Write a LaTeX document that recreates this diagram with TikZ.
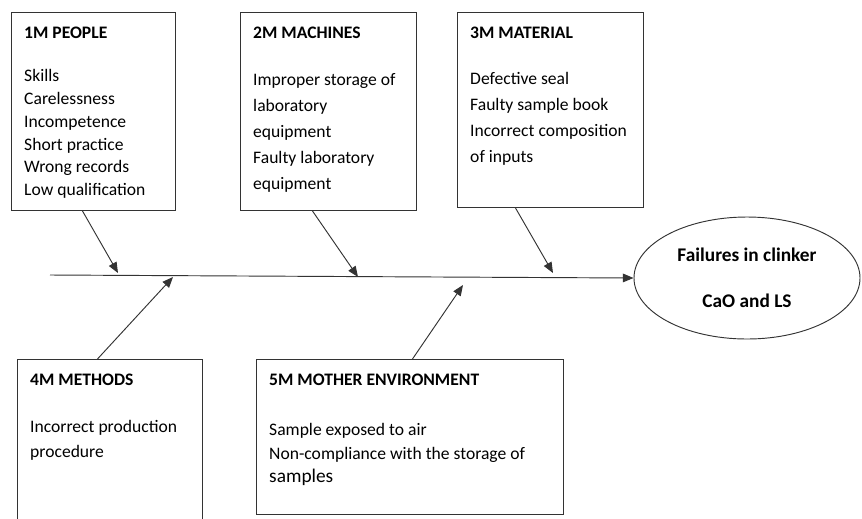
\documentclass[tikz,border=0pt]{standalone}
\usepackage{fontspec}
\setmainfont{Carlito}
\usetikzlibrary{shapes.geometric,arrows.meta,calc}

\begin{document}
\begin{tikzpicture}[x=0.03cm,y=-0.03cm,
  causebox/.style={draw=black!80,line width=0.8pt,anchor=north west,inner sep=0pt},
  causetext/.style={anchor=north west,align=left,inner sep=0pt},
  bone/.style={draw=black!80,line width=0.8pt,-{Triangle[length=0.32cm,width=0.26cm]}}]
\useasboundingbox (0,0) rectangle (862,518);
\clip (0,0) rectangle (862,518);
% cause boxes
\node[causebox,minimum width=4.92cm,minimum height=5.94cm] (p1) at (11,12) {};
\node[causebox,minimum width=5.28cm,minimum height=5.94cm] (p2) at (240,12) {};
\node[causebox,minimum width=5.58cm,minimum height=5.85cm] (p3) at (457,12) {};
\node[causebox,minimum width=5.55cm,minimum height=5.43cm] (p4) at (17,359) {};
\node[causebox,minimum width=9.21cm,minimum height=4.65cm] (p5) at (256,359) {};
% texts of the boxes
\node[causetext,font=\fontsize{15}{19.4}\selectfont] (t1) at (24,26.3)
  {\textbf{1M PEOPLE}\\[18pt] Skills\\ Carelessness\\ Incompetence\\ Short practice\\ Wrong records\\ Low qualification};
\node[causetext,font=\fontsize{15}{22.1}\selectfont] (t2) at (253,26.3)
  {\textbf{2M MACHINES}\\[18.7pt] Improper storage of\\ laboratory\\ equipment\\ Faulty laboratory\\ equipment};
\node[causetext,font=\fontsize{15}{22.1}\selectfont] (t3) at (470,26.3)
  {\textbf{3M MATERIAL}\\[17.9pt] Defective seal\\ Faulty sample book\\ Incorrect composition\\ of inputs};
\node[causetext,font=\fontsize{15}{21.3}\selectfont] (t4) at (30,373.3)
  {\textbf{4M METHODS}\\[19.5pt] Incorrect production\\ procedure};
\node[causetext,font=\fontsize{15}{20}\selectfont] (t5) at (269,373.3)
  {\textbf{5M MOTHER ENVIRONMENT}\\[23.4pt] Sample exposed to air\\ Non-compliance with the storage of\\ {\fontsize{16.5}{20}\selectfont samples}};
% effect
\node[ellipse,draw=black!80,line width=0.8pt,minimum width=6.78cm,minimum height=3.66cm,
  align=center,font=\bfseries\fontsize{16.5}{19.8}\selectfont] (goal) at (747,278)
  {Failures in clinker\\[19.2pt] CaO and LS};
% spine and bones
\coordinate (spine) at (50,275);
\draw[bone] (spine) -- (goal.west);
\coordinate (tip1) at (118,273);
\coordinate (tip2) at (358,277);
\coordinate (tip3) at (553,273);
\coordinate (tip4) at (173,277);
\coordinate (tip5) at (463,285);
\draw[bone] ($(p1.south)+(-11,0)$) -- (tip1);
\draw[bone] ($(p2.south)+(-16,0)$) -- (tip2);
\draw[bone] ($(p3.south)+(-35,0)$) -- (tip3);
\draw[bone] ($(p4.north)+(-12.5,0)$) -- (tip4);
\draw[bone] ($(p5.north)+(2.5,0)$) -- (tip5);
\end{tikzpicture}
\end{document}
